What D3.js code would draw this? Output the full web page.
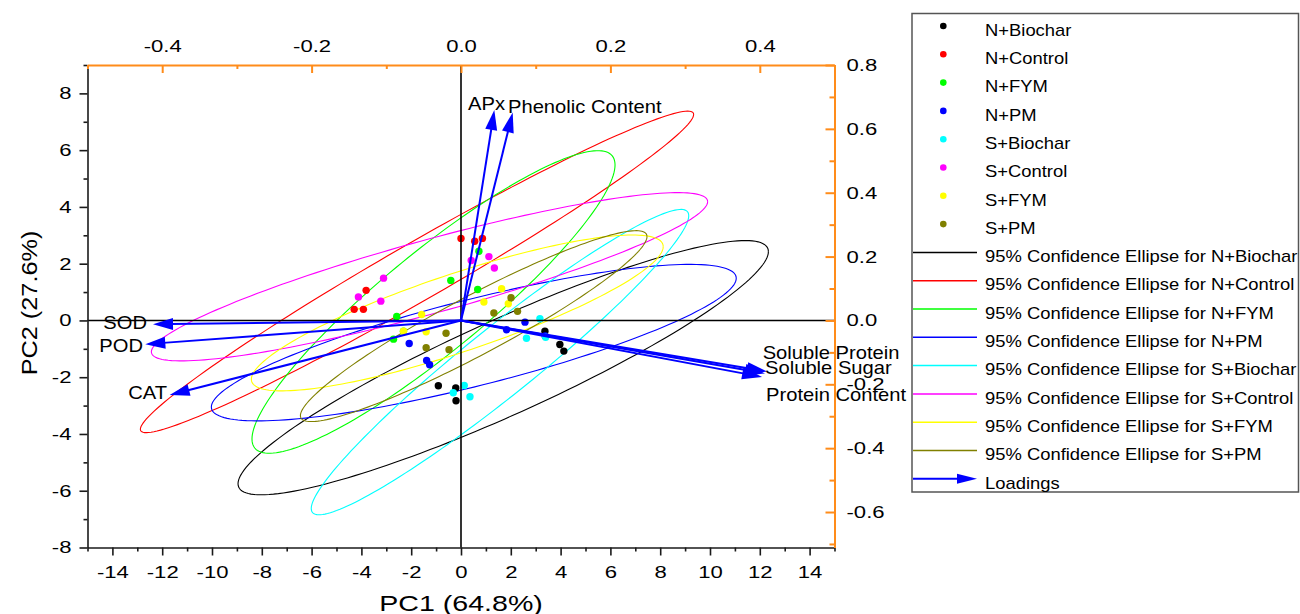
<!DOCTYPE html>
<html><head><meta charset="utf-8">
<script src="https://cdn.jsdelivr.net/npm/d3@7"></script>
<style>
html,body{margin:0;padding:0;background:#fff;}
svg{display:block;}
text{font-family:"Liberation Sans",Arial,Helvetica,sans-serif;}
</style></head><body>
<svg id="chart" width="1300" height="614"></svg>
<script>
// ---------------- DATA ----------------
const groups = ["N+Biochar","N+Control","N+FYM","N+PM","S+Biochar","S+Control","S+FYM","S+PM"];
const pc1Scores = [
  [3.37, 3.97, 4.13, -0.91, -0.21, -0.20],
  [0.00, 0.55, 0.86, -3.81, -4.29, -3.92],
  [-0.41, 0.67, 0.72, -2.58, -2.71, -2.31],
  [-2.08, -1.38, -1.26, 1.83, 2.57, 3.38],
  [3.17, 2.63, 3.40, 0.13, -0.31, 0.36],
  [-3.11, -4.12, -3.22, 0.41, 1.12, 1.34],
  [1.63, 0.92, 1.90, -1.58, -2.31, -1.40],
  [2.01, 2.27, 1.32, -0.60, -1.40, -0.48]
];
const pc2Scores = [
  [-0.38, -0.85, -1.08, -2.30, -2.38, -2.83],
  [2.89, 2.79, 2.89, 1.06, 0.39, 0.39],
  [1.41, 1.09, 2.44, 0.14, -0.66, -0.38],
  [-0.81, -1.41, -1.56, -0.33, -0.06, -0.55],
  [0.06, -0.63, -0.59, -2.29, -2.55, -2.69],
  [1.49, 0.83, 0.68, 2.11, 2.25, 1.85],
  [1.12, 0.65, 0.59, 0.21, -0.38, -0.40],
  [0.80, 0.32, 0.26, -0.45, -0.96, -1.03]
];
// 95% confidence ellipses (data units): centre, half-width, half-height, half-height at centre
const ellipseCX = [1.695, -1.767, -1.104, 0.514, 1.566, -1.265, -0.149, 0.51];
const ellipseCY = [-1.665, 1.711, 0.651, -0.782, -1.468, 1.539, 0.264, -0.20];
const ellipseHalfW = [10.65, 11.11, 7.29, 10.54, 7.58, 11.17, 8.27, 6.96];
const ellipseHalfH = [4.479, 5.665, 5.33, 2.757, 5.38, 2.965, 2.746, 3.363];
const ellipseMidH = [1.83, 1.16, 2.26, 1.567, 1.53, 1.338, 1.444, 1.17];

const loadingNames = ["APx","Phenolic Content","SOD","POD","CAT","Soluble Protein","Soluble Sugar","Protein Content"];
const loadingPC1 = [0.0446, 0.0692, -0.4123, -0.4226, -0.390, 0.4096, 0.407, 0.403];
const loadingPC2 = [0.659, 0.651, -0.0119, -0.0745, -0.2333, -0.160, -0.166, -0.177];

const pc1Ticks = [-14,-12,-10,-8,-6,-4,-2,0,2,4,6,8,10,12,14];
const pc1Minor = [-15,-13,-11,-9,-7,-5,-3,-1,1,3,5,7,9,11,13,15];
const pc2Ticks = [-8,-6,-4,-2,0,2,4,6,8];
const pc2Minor = [-7,-5,-3,-1,1,3,5,7,9];
const topTicks = [-0.4,-0.2,0.0,0.2,0.4];
const topMinor = [-0.5,-0.3,-0.1,0.1,0.3,0.5];
const rightTicks = [-0.6,-0.4,-0.2,0.0,0.2,0.4,0.6,0.8];
const rightMinor = [-0.7,-0.5,-0.3,-0.1,0.1,0.3,0.5,0.7];
const xTitle = "PC1 (64.8%)";
const yTitle = "PC2 (27.6%)";

// ---------------- STYLE / LAYOUT ----------------
const groupColors = ["#000000","#ff0000","#00ff00","#0000ff","#00ffff","#ff00ff","#ffff00","#808000"];
const orange = "#ff8c1a";
const arrowBlue = "#0000ff";
const plot = {left:87.5, right:834.5, top:65, bottom:547.5};
// label placement relative to arrow tip: [anchor, dx, dy]
const labelPlacement = [
  ["start",-26.3,-0.5],["start",-4.7,0.3],["end",-6,4.7],["end",-2.3,7.7],
  ["end",-2.7,4],["start",-4.3,-12.5],["start",0,1],["start",4,24]
];

const svg = d3.select("#chart");
const x = d3.scaleLinear().domain([-15,15]).range([plot.left,plot.right]);
const y = d3.scaleLinear().domain([-8,9]).range([plot.bottom,plot.top]);
const xL = d3.scaleLinear().domain([-0.5,0.5]).range([plot.left,plot.right]);
const yL = d3.scaleLinear().domain([-8*0.8/9,0.8]).range([plot.bottom,plot.top]);

function styleAxis(g, color, width){
  g.attr("font-size",null).attr("font-family",null);
  g.select(".domain").attr("stroke",color).attr("stroke-width",width);
  g.selectAll(".tick line").attr("stroke",color).attr("stroke-width",width);
  g.selectAll("text").attr("fill","#000").attr("font-size",17);
}

// ellipses
const angles = d3.range(0,361,2).map(a=>a*Math.PI/180);
const ellLine = d3.line().x(d=>x(d[0])).y(d=>y(d[1]));
groups.forEach((g,i)=>{
  const tilt = Math.sqrt(Math.max(0, ellipseHalfH[i]**2 - ellipseMidH[i]**2));
  const pts = angles.map(t=>[ellipseCX[i] + ellipseHalfW[i]*Math.cos(t),
                             ellipseCY[i] + tilt*Math.cos(t) + ellipseMidH[i]*Math.sin(t)]);
  svg.append("path").attr("d",ellLine(pts)).attr("fill","none")
    .attr("stroke",groupColors[i]).attr("stroke-width",1.1);
});

// points
groups.forEach((g,i)=>{
  svg.append("g").selectAll("circle").data(pc1Scores[i].map((v,j)=>[v,pc2Scores[i][j]]))
    .join("circle").attr("cx",d=>x(d[0])).attr("cy",d=>y(d[1])).attr("r",3.7)
    .attr("fill",groupColors[i]);
});

// zero lines
svg.append("line").attr("x1",x(0)).attr("x2",x(0)).attr("y1",plot.top).attr("y2",plot.bottom)
  .attr("stroke","#000").attr("stroke-width",1.6);
svg.append("line").attr("x1",plot.left).attr("x2",plot.right).attr("y1",y(0)).attr("y2",y(0))
  .attr("stroke","#000").attr("stroke-width",1.6);

// axes
const fmt1 = d=>d.toFixed(1);
const gB = svg.append("g").attr("transform",`translate(0,${plot.bottom})`)
  .call(d3.axisBottom(x).tickValues(pc1Ticks).tickSizeInner(8).tickSizeOuter(0).tickPadding(10).tickFormat(d=>String(d)));
styleAxis(gB,"#1a1a1a",1.6);
gB.selectAll("text").attr("transform","scale(1.3,1)");
const gBm = svg.append("g").attr("transform",`translate(0,${plot.bottom})`)
  .call(d3.axisBottom(x).tickValues(pc1Minor).tickSizeInner(4).tickSizeOuter(0).tickFormat(""));
styleAxis(gBm,"#1a1a1a",1.6); gBm.select(".domain").remove();
const gLft = svg.append("g").attr("transform",`translate(${plot.left},0)`)
  .call(d3.axisLeft(y).tickValues(pc2Ticks).tickSizeInner(8).tickSizeOuter(0).tickFormat(d=>String(d)));
styleAxis(gLft,"#1a1a1a",1.6);
gLft.selectAll("text").attr("x",-16/1.3).attr("transform","scale(1.3,1)");
const gLm = svg.append("g").attr("transform",`translate(${plot.left},0)`)
  .call(d3.axisLeft(y).tickValues(pc2Minor).tickSizeInner(4).tickSizeOuter(0).tickFormat(""));
styleAxis(gLm,"#1a1a1a",1.6); gLm.select(".domain").remove();
const gT = svg.append("g").attr("transform",`translate(0,${plot.top})`)
  .call(d3.axisTop(xL).tickValues(topTicks).tickSizeInner(-8).tickSizeOuter(0).tickPadding(13).tickFormat(fmt1));
styleAxis(gT,orange,2);
gT.selectAll("text").attr("transform","scale(1.3,1)");
const gTm = svg.append("g").attr("transform",`translate(0,${plot.top})`)
  .call(d3.axisTop(xL).tickValues(topMinor).tickSizeInner(-4).tickSizeOuter(0).tickFormat(""));
styleAxis(gTm,orange,2); gTm.select(".domain").remove();
const gR = svg.append("g").attr("transform",`translate(${plot.right},0)`)
  .call(d3.axisRight(yL).tickValues(rightTicks).tickSizeInner(-9).tickSizeOuter(0).tickFormat(fmt1));
styleAxis(gR,orange,2);
gR.selectAll("text").attr("x",12/1.3).attr("transform","scale(1.3,1)");
const gRm = svg.append("g").attr("transform",`translate(${plot.right},0)`)
  .call(d3.axisRight(yL).tickValues(rightMinor).tickSizeInner(-5).tickSizeOuter(0).tickFormat(""));
styleAxis(gRm,orange,2); gRm.select(".domain").remove();

// axis titles
svg.append("text").attr("transform",`translate(${x(0)},611) scale(1.3,1)`)
  .attr("text-anchor","middle").attr("font-size",22).text(xTitle);
svg.append("text").attr("transform",`translate(37,303) rotate(-90) scale(1.15,1)`)
  .attr("text-anchor","middle").attr("font-size",22).text(yTitle);

// loadings arrows
function arrow(g,x1,y1,x2,y2,len,hw,width){
  const dx=x2-x1, dy=y2-y1, L=Math.hypot(dx,dy), ux=dx/L, uy=dy/L;
  const bx=x2-ux*len, by=y2-uy*len;
  g.append("line").attr("x1",x1).attr("y1",y1).attr("x2",bx+ux*2).attr("y2",by+uy*2)
    .attr("stroke",arrowBlue).attr("stroke-width",width);
  g.append("path").attr("d",`M${x2},${y2}L${bx-uy*hw},${by+ux*hw}L${bx+uy*hw},${by-ux*hw}Z`)
    .attr("fill",arrowBlue);
}
const gA = svg.append("g");
loadingNames.forEach((n,i)=>{
  arrow(gA,xL(0),yL(0),xL(loadingPC1[i]),yL(loadingPC2[i]),20,6,2);
});
loadingNames.forEach((n,i)=>{
  const tx=xL(loadingPC1[i]), ty=yL(loadingPC2[i]);
  const p=labelPlacement[i];
  gA.append("text").attr("transform",`translate(${tx+p[1]},${ty+p[2]}) scale(1.12,1)`)
    .attr("text-anchor",p[0]).attr("font-size",18).attr("fill","#000").text(n);
});

// legend
const lg = svg.append("g");
lg.append("rect").attr("x",912).attr("y",13.5).attr("width",386.5).attr("height",478.5)
  .attr("fill","#fff").attr("stroke","#555").attr("stroke-width",1.5);
const rowY = i=>26+28.3*i;
function legendText(i,s){
  lg.append("text").attr("transform",`translate(985,${rowY(i)+9.7}) scale(1.15,1)`)
    .attr("font-size",16).attr("fill","#000").text(s);
}
groups.forEach((g,i)=>{
  lg.append("circle").attr("cx",943.3).attr("cy",rowY(i)).attr("r",3.3).attr("fill",groupColors[i]);
  legendText(i,g);
});
groups.forEach((g,i)=>{
  const r=i+8;
  lg.append("line").attr("x1",913).attr("x2",977).attr("y1",rowY(r)).attr("y2",rowY(r))
    .attr("stroke",groupColors[i]).attr("stroke-width",1.5);
  legendText(r,"95% Confidence Ellipse for "+g);
});
arrow(lg,913,rowY(16),977,rowY(16),20,5,2);
legendText(16,"Loadings");
</script>
</body></html>
